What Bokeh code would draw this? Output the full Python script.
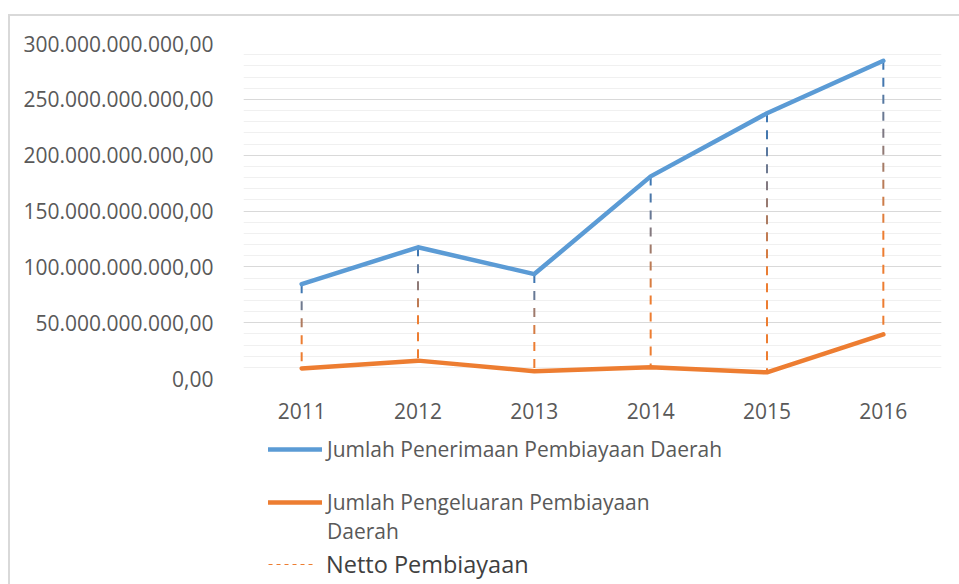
from bokeh.plotting import figure
from bokeh.layouts import column
from bokeh.models import (FactorRange, Range1d, SingleIntervalTicker, CustomJSTickFormatter,
                          Legend, LegendItem, ColumnDataSource)
from bokeh.embed import file_html
from bokeh.resources import INLINE

# ---- data ----
years = ["2011", "2012", "2013", "2014", "2015", "2016"]
penerimaan = [84.5e9, 117.5e9, 93.5e9, 181.0e9, 237.5e9, 284.5e9]
pengeluaran = [9.0e9, 16.0e9, 6.5e9, 10.0e9, 5.5e9, 39.5e9]
label_penerimaan = "Jumlah Penerimaan Pembiayaan Daerah"
label_pengeluaran = ["Jumlah Pengeluaran Pembiayaan", "Daerah"]
label_netto = "Netto Pembiayaan"
y_max = 300e9
y_step = 50e9

# ---- styling constants ----
FONT = "Open Sans"
BLUE = "#5b9bd5"
ORANGE = "#ed7d31"
TICK_COLOR = "#595959"
FRAME_H = 335
FRAME_W = 698
PX_PER_UNIT = FRAME_H / y_max
DASH_PX, GAP_PX = 9, 8
TOP_RGB = (63, 119, 178)
BOT_RGB = (237, 125, 49)

W = 949
H_CHART = 414
H_LEG = 154
ML = 233
MR = W - ML - FRAME_W

p = figure(x_range=FactorRange(*years, range_padding=0),
           y_range=Range1d(0, y_max),
           width=W, height=H_CHART,
           output_backend="svg", toolbar_location=None,
           min_border_left=ML, min_border_right=MR,
           min_border_top=27, min_border_bottom=H_CHART - 27 - FRAME_H)
p.outline_line_color = None
p.background_fill_color = "white"
p.border_fill_color = "white"

# axes
p.yaxis.ticker = SingleIntervalTicker(interval=y_step, num_minor_ticks=5)
p.yaxis.formatter = CustomJSTickFormatter(code="""
const parts = tick.toFixed(2).split('.');
return parts[0].replace(/\\B(?=(\\d{3})+(?!\\d))/g, '.') + ',' + parts[1];
""")
for ax in (p.xaxis, p.yaxis):
    ax.axis_line_color = None
    ax.major_tick_line_color = None
    ax.minor_tick_line_color = None
    ax.major_label_text_font = FONT
    ax.major_label_text_font_size = "21px"
    ax.major_label_text_color = TICK_COLOR
p.yaxis.major_label_standoff = 24
p.xaxis.major_label_standoff = 18

p.xgrid.grid_line_color = None
p.ygrid.grid_line_color = "#d9d9d9"
p.ygrid.grid_line_width = 1
p.ygrid.minor_grid_line_color = "#f0f0f0"
p.ygrid.minor_grid_line_width = 1

# ---- drop lines (dashed, blue -> orange gradient), built from the data ----
x0s, y0s, x1s, y1s, cols = [], [], [], [], []
period = (DASH_PX + GAP_PX) / PX_PER_UNIT
dash = DASH_PX / PX_PER_UNIT
for yr, top, bot in zip(years, penerimaan, pengeluaran):
    length = top - bot
    s = top
    while s > bot:
        e = max(bot, s - dash)
        f = (top - s) / length
        f2 = min(1.0, max(0.0, (f - 0.05) / 0.55))
        rgb = tuple(int(round(a + (b - a) * f2)) for a, b in zip(TOP_RGB, BOT_RGB))
        x0s.append(yr); x1s.append(yr); y0s.append(s); y1s.append(e)
        cols.append("#%02x%02x%02x" % rgb)
        s -= period
drop_src = ColumnDataSource(dict(x0=x0s, y0=y0s, x1=x1s, y1=y1s, c=cols))
p.segment(x0="x0", y0="y0", x1="x1", y1="y1", color="c", line_width=2, source=drop_src)

# ---- series ----
p.line(years, penerimaan, color=BLUE, line_width=4.5, line_join="round", line_cap="round")
p.line(years, pengeluaran, color=ORANGE, line_width=4.5, line_join="round", line_cap="round")

# ---- legend panel (a second canvas below the chart) ----
lf = figure(width=W, height=H_LEG, x_range=Range1d(0, 1), y_range=Range1d(0, 1),
            x_axis_location=None, y_axis_location=None,
            output_backend="svg", toolbar_location=None,
            min_border_left=ML, min_border_right=MR,
            min_border_top=0, min_border_bottom=0)
lf.grid.visible = False
lf.outline_line_color = None
lf.background_fill_color = "white"
lf.border_fill_color = "white"
# legend proxies: placed outside the visible range so only their legend glyphs show
proxy_x = [5, 6]
proxy_y = [5, 5]
g_pen = lf.line(x=proxy_x, y=proxy_y, color=BLUE, line_width=4.5, line_cap="round")
g_peng = lf.line(x=proxy_x, y=proxy_y, color=ORANGE, line_width=4.5, line_cap="round")
g_blank = lf.line(x=proxy_x, y=proxy_y, color=ORANGE, line_alpha=0)
g_net = lf.line(x=proxy_x, y=proxy_y, color=ORANGE, line_width=1, line_dash="4 4")


def mk_legend(items, loc, size, color, gw, standoff):
    lg = Legend(items=items, location=loc, orientation="vertical",
                padding=0, margin=0, spacing=0,
                border_line_color=None, background_fill_alpha=0,
                glyph_width=gw, glyph_height=30, label_height=30,
                label_standoff=standoff,
                label_text_font=FONT, label_text_font_size=size,
                label_text_color=color)
    lf.add_layout(lg, "center")
    return lg


mk_legend([LegendItem(label=label_penerimaan, renderers=[g_pen])], (25, 120), "21px", TICK_COLOR, 54, 5)
mk_legend([LegendItem(label=label_pengeluaran[0], renderers=[g_peng])], (25, 67), "21px", TICK_COLOR, 54, 5)
mk_legend([LegendItem(label=label_pengeluaran[1], renderers=[g_blank])], (25, 38), "21px", TICK_COLOR, 54, 5)
mk_legend([LegendItem(label=label_netto, renderers=[g_net])], (25, 4), "23.5px", "#404040", 47, 11)

layout = column(p, lf, spacing=0,
                styles={"border-top": "2px solid #d9d9d9",
                        "border-left": "2px solid #d9d9d9",
                        "margin-left": "8px",
                        "margin-top": "14px"})

open("out.html", "w").write(file_html(layout, INLINE))
